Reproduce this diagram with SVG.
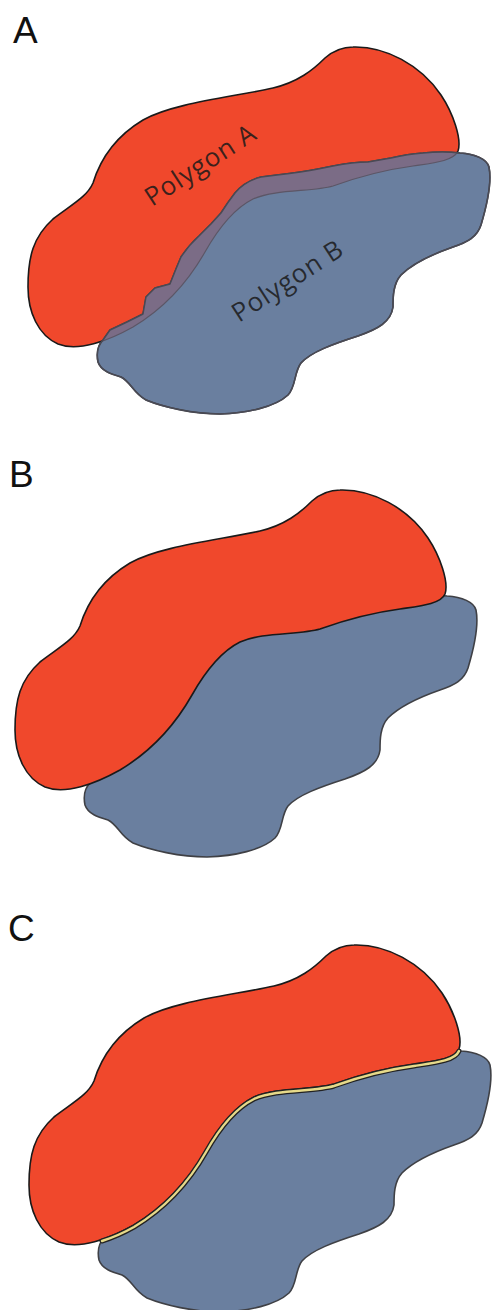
<svg xmlns="http://www.w3.org/2000/svg" xmlns:xlink="http://www.w3.org/1999/xlink" width="492" height="1310" viewBox="0 0 492 1310">
<style>
  .lbl { font-family: "Liberation Sans", Arial, sans-serif; font-size: 37px; fill: #111; }
  .red { fill: #f0482c; stroke: #1a1a1a; stroke-width: 1.6; stroke-linejoin: round; }
  .blue { fill: #6a7f9f; stroke: #3f4045; stroke-width: 1.6; stroke-linejoin: round; }
  .blueline { fill: none; stroke: #4a4a55; stroke-width: 1.4; stroke-linejoin: round; }
  .overlap { fill: #7b6c86; stroke: #5c5666; stroke-width: 1.2; }
  .ptxt { font-family: "Open Sans", "Noto Sans", sans-serif; font-size: 26px; letter-spacing: 0.8px; fill: #1a1a1a; fill-opacity: 0.85; }
  .edgeK { fill: none; stroke: #222; stroke-width: 5; stroke-linecap: round; }
  .edgeY { fill: none; stroke: #e6da8a; stroke-width: 2.4; stroke-linecap: round; }
</style>
<defs>
  <path id="redShape" d="M340,490 C372,489 408,508 428,538 C440,556 449,582 445,594 C441,604 420,606 400,609 C370,613 345,620 320,629 C300,635 262,632 240,642 C220,652 205,672 192,695 C175,725 150,752 120,770 C95,784 65,795 45,787 C25,778 15,755 15,730 C15,700 20,680 40,662 C58,648 74,640 80,626 C88,600 105,578 130,563 C160,546 220,540 260,531 C285,525 300,513 312,501 C320,494 330,490 340,490 Z"/>
  <path id="blueShape" d="M90,783 L97,773 L114,765 L130,757 L133,740 L142,731 L157,727 L163,712 L168,700 Q176,688 186,679 L198,667 L208,656 Q215,645 222,636 Q232,624 248,620 L264,618 Q290,615 305,612 L320,609 Q340,605 355,605 L378,601 Q395,597 410,596 Q430,594 447,596 C462,597 474,602 476,610 C479,625 474,648 468,668 C464,680 455,685 440,690 C420,697 400,706 388,718 C380,727 380,740 380,750 C378,765 365,772 345,779 C320,787 298,795 288,806 C281,815 283,830 275,838 C262,850 235,856 207,857 C180,857 150,850 133,843 C120,836 118,825 108,820 C98,817 88,814 85,805 C83,795 85,788 90,783 Z"/>
  <path id="sharedEdge" d="M445,594 C441,604 420,606 400,609 C370,613 345,620 320,629 C300,635 262,632 240,642 C220,652 205,672 192,695 C175,725 150,752 120,770 Q104,779 88,784"/>
  <clipPath id="clipBlue" clipPathUnits="userSpaceOnUse">
    <use xlink:href="#blueShape"/>
  </clipPath>
</defs>

<g id="panelA">
  <text class="lbl" x="13" y="43">A</text>
  <g id="panelA-shapes" transform="translate(13,-443)">
    <use id="polygonA" xlink:href="#redShape" class="red"/>
    <use id="polygonB" xlink:href="#blueShape" class="blue"/>
    <use id="overlapAB" xlink:href="#redShape" class="overlap" clip-path="url(#clipBlue)"/>
    <use xlink:href="#blueShape" class="blueline"/>
  </g>
  <text class="ptxt" transform="translate(152,207) rotate(-33)">Polygon A</text>
  <text class="ptxt" transform="translate(239,323) rotate(-33)">Polygon B</text>
</g>

<g id="panelB">
  <text class="lbl" x="9" y="487">B</text>
  <g id="panelB-shapes">
    <use xlink:href="#blueShape" class="blue"/>
    <use xlink:href="#redShape" class="red"/>
  </g>
</g>

<g id="panelC">
  <text class="lbl" x="8" y="941">C</text>
  <g id="panelC-shapes" transform="translate(14,455)">
    <use xlink:href="#blueShape" class="blue"/>
    <use xlink:href="#redShape" class="red"/>
    <g id="connectors" transform="translate(0,2)">
      <use xlink:href="#sharedEdge" class="edgeK"/>
      <use xlink:href="#sharedEdge" class="edgeY"/>
    </g>
  </g>
</g>
</svg>
